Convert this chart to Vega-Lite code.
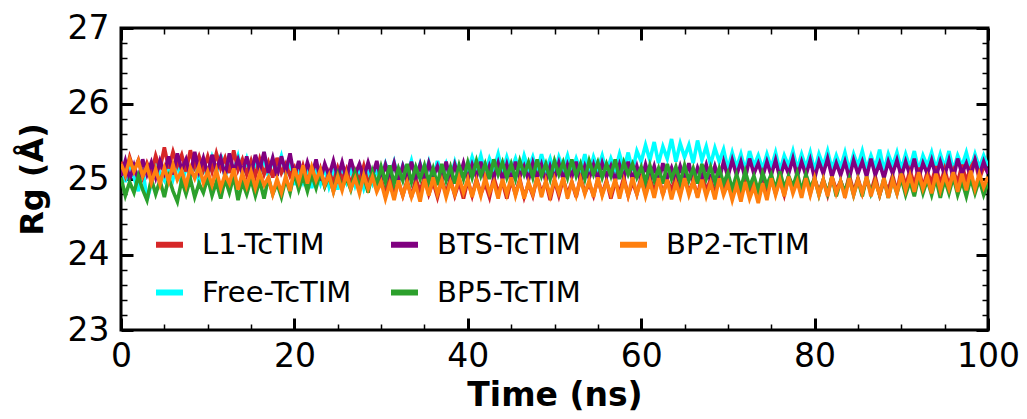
{
  "$schema": "https://vega.github.io/schema/vega-lite/v6.json",
  "width": 867,
  "height": 302,
  "autosize": {"type": "none"},
  "padding": {"left": 121, "top": 28, "right": 39, "bottom": 89},
  "background": "white",
  "config": {
    "font": "DejaVu Sans",
    "view": {"stroke": "black", "strokeWidth": 3},
    "axis": {"grid": false, "domain": false, "labelColor": "black", "tickColor": "black", "titleColor": "black", "labelFont": "DejaVu Sans", "titleFont": "DejaVu Sans"}
  },
  "datasets": {
    "traj": [
{"t":0,"L1":25.23,"BTS":25.04,"BP2":25.2,"Free":25.2,"BP5":25.02},
{"t":0.5,"L1":25.05,"BTS":25.24,"BP2":25.06,"Free":24.96,"BP5":24.78},
{"t":1,"L1":25.29,"BTS":25,"BP2":25.26,"Free":25.24,"BP5":24.96},
{"t":1.5,"L1":25.11,"BTS":25.18,"BP2":25.1,"Free":25.02,"BP5":24.82},
{"t":2,"L1":25.25,"BTS":24.98,"BP2":25.24,"Free":24.84,"BP5":25.04},
{"t":2.5,"L1":25.03,"BTS":25.26,"BP2":25.04,"Free":25.14,"BP5":24.86},
{"t":3,"L1":25.21,"BTS":25.06,"BP2":25.17,"Free":24.72,"BP5":24.72},
{"t":3.5,"L1":25.07,"BTS":25.22,"BP2":24.95,"Free":24.94,"BP5":25},
{"t":4,"L1":25.31,"BTS":25.02,"BP2":25.13,"Free":25.22,"BP5":24.8},
{"t":4.5,"L1":25.13,"BTS":25.24,"BP2":24.93,"Free":25.08,"BP5":24.98},
{"t":5,"L1":25.42,"BTS":25.08,"BP2":25.15,"Free":24.98,"BP5":24.76},
{"t":5.5,"L1":25.14,"BTS":25.3,"BP2":24.97,"Free":25.18,"BP5":25.02},
{"t":6,"L1":25.36,"BTS":25.06,"BP2":25.19,"Free":25,"BP5":24.84},
{"t":6.5,"L1":25.18,"BTS":25.34,"BP2":24.99,"Free":25.22,"BP5":24.7},
{"t":7,"L1":25.32,"BTS":25.12,"BP2":25.11,"Free":24.92,"BP5":24.98},
{"t":7.5,"L1":25.1,"BTS":25.26,"BP2":24.91,"Free":25.16,"BP5":24.8},
{"t":8,"L1":25.38,"BTS":25.04,"BP2":25.15,"Free":25.04,"BP5":25},
{"t":8.5,"L1":25.16,"BTS":25.36,"BP2":25.01,"Free":25.2,"BP5":24.76},
{"t":9,"L1":25.3,"BTS":25.1,"BP2":25.17,"Free":24.96,"BP5":24.94},
{"t":9.5,"L1":25.12,"BTS":25.28,"BP2":24.95,"Free":25.14,"BP5":24.82},
{"t":10,"L1":25.3,"BTS":25.06,"BP2":25.1,"Free":25.04,"BP5":25.02},
{"t":10.5,"L1":25.1,"BTS":25.32,"BP2":24.92,"Free":25.28,"BP5":24.78},
{"t":11,"L1":25.34,"BTS":25.12,"BP2":25.12,"Free":25.08,"BP5":24.96},
{"t":11.5,"L1":25.14,"BTS":25.28,"BP2":24.88,"Free":25.32,"BP5":24.74},
{"t":12,"L1":25.28,"BTS":25.04,"BP2":25.06,"Free":25.02,"BP5":25},
{"t":12.5,"L1":25.08,"BTS":25.34,"BP2":24.94,"Free":25.24,"BP5":24.82},
{"t":13,"L1":25.38,"BTS":25.1,"BP2":25.14,"Free":25.1,"BP5":25.04},
{"t":13.5,"L1":25.12,"BTS":25.26,"BP2":24.86,"Free":25.3,"BP5":24.72},
{"t":14,"L1":25.26,"BTS":25.08,"BP2":25.08,"Free":25.06,"BP5":24.96},
{"t":14.5,"L1":25.06,"BTS":25.3,"BP2":24.9,"Free":25.26,"BP5":24.8},
{"t":15,"L1":25.24,"BTS":25.06,"BP2":25.1,"Free":25.02,"BP5":25},
{"t":15.5,"L1":25.04,"BTS":25.32,"BP2":24.88,"Free":25.22,"BP5":24.78},
{"t":16,"L1":25.26,"BTS":25.12,"BP2":25.08,"Free":25.08,"BP5":24.98},
{"t":16.5,"L1":25.06,"BTS":25.36,"BP2":24.92,"Free":25.28,"BP5":24.74},
{"t":17,"L1":25.22,"BTS":25.08,"BP2":25.02,"Free":25.04,"BP5":25.02},
{"t":17.5,"L1":25.02,"BTS":25.28,"BP2":24.8,"Free":25.26,"BP5":24.8},
{"t":18,"L1":25.28,"BTS":25.04,"BP2":25,"Free":25.1,"BP5":24.94},
{"t":18.5,"L1":25.08,"BTS":25.3,"BP2":24.82,"Free":25.3,"BP5":24.76},
{"t":19,"L1":25.2,"BTS":25.1,"BP2":25.04,"Free":25.06,"BP5":25},
{"t":19.5,"L1":25.04,"BTS":25.34,"BP2":24.84,"Free":25.24,"BP5":24.82},
{"t":20,"L1":25.15,"BTS":25.02,"BP2":25.14,"Free":24.92,"BP5":25.08},
{"t":20.5,"L1":24.95,"BTS":25.24,"BP2":24.96,"Free":25.14,"BP5":24.86},
{"t":21,"L1":25.17,"BTS":25,"BP2":25.18,"Free":24.96,"BP5":25.04},
{"t":21.5,"L1":24.97,"BTS":25.22,"BP2":24.94,"Free":25.12,"BP5":24.84},
{"t":22,"L1":25.11,"BTS":25.04,"BP2":25.16,"Free":24.88,"BP5":25.06},
{"t":22.5,"L1":24.93,"BTS":25.26,"BP2":24.98,"Free":25.1,"BP5":24.88},
{"t":23,"L1":25.13,"BTS":24.98,"BP2":25.12,"Free":24.94,"BP5":25.1},
{"t":23.5,"L1":24.91,"BTS":25.2,"BP2":24.92,"Free":25.16,"BP5":24.9},
{"t":24,"L1":25.09,"BTS":25.04,"BP2":25.05,"Free":24.9,"BP5":25.04},
{"t":24.5,"L1":24.95,"BTS":25.24,"BP2":24.83,"Free":25.08,"BP5":24.84},
{"t":25,"L1":25.15,"BTS":25.02,"BP2":25.03,"Free":24.86,"BP5":25.06},
{"t":25.5,"L1":24.99,"BTS":25.22,"BP2":24.85,"Free":25.12,"BP5":24.88},
{"t":26,"L1":25.13,"BTS":25,"BP2":25.07,"Free":24.96,"BP5":25.02},
{"t":26.5,"L1":24.93,"BTS":25.26,"BP2":24.87,"Free":25.14,"BP5":24.86},
{"t":27,"L1":25.11,"BTS":25.06,"BP2":25.01,"Free":24.92,"BP5":25.08},
{"t":27.5,"L1":24.97,"BTS":25.2,"BP2":24.81,"Free":25.1,"BP5":24.9},
{"t":28,"L1":25.17,"BTS":25.02,"BP2":25.05,"Free":24.88,"BP5":25.04},
{"t":28.5,"L1":24.93,"BTS":25.22,"BP2":24.87,"Free":25.08,"BP5":24.82},
{"t":29,"L1":25.09,"BTS":25.04,"BP2":25.03,"Free":24.94,"BP5":25.1},
{"t":29.5,"L1":24.95,"BTS":25.24,"BP2":24.83,"Free":25.12,"BP5":24.92},
{"t":30,"L1":25,"BTS":24.99,"BP2":24.96,"Free":25,"BP5":25.16},
{"t":30.5,"L1":24.8,"BTS":25.19,"BP2":24.74,"Free":25.2,"BP5":24.96},
{"t":31,"L1":25.02,"BTS":25.01,"BP2":24.94,"Free":25.02,"BP5":25.18},
{"t":31.5,"L1":24.82,"BTS":25.21,"BP2":24.72,"Free":25.22,"BP5":24.94},
{"t":32,"L1":24.96,"BTS":24.97,"BP2":24.98,"Free":24.98,"BP5":25.14},
{"t":32.5,"L1":24.78,"BTS":25.17,"BP2":24.78,"Free":25.18,"BP5":24.98},
{"t":33,"L1":24.98,"BTS":24.99,"BP2":24.96,"Free":25.04,"BP5":25.2},
{"t":33.5,"L1":24.76,"BTS":25.23,"BP2":24.76,"Free":25.24,"BP5":24.96},
{"t":34,"L1":25,"BTS":25.01,"BP2":24.92,"Free":25,"BP5":25.16},
{"t":34.5,"L1":24.84,"BTS":25.19,"BP2":24.7,"Free":25.2,"BP5":25},
{"t":35,"L1":25.02,"BTS":24.97,"BP2":25,"Free":25.02,"BP5":25.18},
{"t":35.5,"L1":24.8,"BTS":25.21,"BP2":24.78,"Free":25.22,"BP5":24.96},
{"t":36,"L1":24.96,"BTS":25.03,"BP2":25.02,"Free":24.98,"BP5":25.14},
{"t":36.5,"L1":24.76,"BTS":25.17,"BP2":24.8,"Free":25.24,"BP5":24.92},
{"t":37,"L1":24.98,"BTS":24.99,"BP2":24.98,"Free":25.04,"BP5":25.2},
{"t":37.5,"L1":24.82,"BTS":25.23,"BP2":24.76,"Free":25.2,"BP5":24.98},
{"t":38,"L1":25,"BTS":24.97,"BP2":24.96,"Free":25,"BP5":25.16},
{"t":38.5,"L1":24.78,"BTS":25.19,"BP2":24.8,"Free":25.22,"BP5":24.94},
{"t":39,"L1":24.96,"BTS":25.01,"BP2":25.02,"Free":25.02,"BP5":25.18},
{"t":39.5,"L1":24.74,"BTS":25.21,"BP2":24.82,"Free":25.18,"BP5":25},
{"t":40,"L1":24.98,"BTS":24.99,"BP2":25,"Free":25.09,"BP5":25.22},
{"t":40.5,"L1":24.78,"BTS":25.19,"BP2":24.76,"Free":25.29,"BP5":25.02},
{"t":41,"L1":25,"BTS":25.03,"BP2":24.98,"Free":25.11,"BP5":25.24},
{"t":41.5,"L1":24.8,"BTS":25.23,"BP2":24.78,"Free":25.31,"BP5":25.04},
{"t":42,"L1":24.94,"BTS":24.97,"BP2":25.02,"Free":25.07,"BP5":25.2},
{"t":42.5,"L1":24.76,"BTS":25.17,"BP2":24.82,"Free":25.27,"BP5":25},
{"t":43,"L1":25.02,"BTS":25.01,"BP2":24.96,"Free":25.13,"BP5":25.26},
{"t":43.5,"L1":24.82,"BTS":25.21,"BP2":24.74,"Free":25.33,"BP5":25.06},
{"t":44,"L1":24.96,"BTS":24.99,"BP2":25,"Free":25.09,"BP5":25.22},
{"t":44.5,"L1":24.74,"BTS":25.19,"BP2":24.8,"Free":25.29,"BP5":25.02},
{"t":45,"L1":24.98,"BTS":24.97,"BP2":25.02,"Free":25.11,"BP5":25.2},
{"t":45.5,"L1":24.8,"BTS":25.23,"BP2":24.78,"Free":25.27,"BP5":25},
{"t":46,"L1":25,"BTS":25.03,"BP2":24.98,"Free":25.07,"BP5":25.24},
{"t":46.5,"L1":24.76,"BTS":25.17,"BP2":24.74,"Free":25.31,"BP5":25.06},
{"t":47,"L1":24.94,"BTS":24.99,"BP2":24.96,"Free":25.13,"BP5":25.22},
{"t":47.5,"L1":24.78,"BTS":25.21,"BP2":24.8,"Free":25.29,"BP5":25.02},
{"t":48,"L1":25.02,"BTS":25.01,"BP2":25.02,"Free":25.09,"BP5":25.26},
{"t":48.5,"L1":24.82,"BTS":25.19,"BP2":24.76,"Free":25.33,"BP5":25.04},
{"t":49,"L1":24.96,"BTS":24.97,"BP2":24.98,"Free":25.11,"BP5":25.2},
{"t":49.5,"L1":24.72,"BTS":25.17,"BP2":24.78,"Free":25.27,"BP5":25},
{"t":50,"L1":24.98,"BTS":25.01,"BP2":25,"Free":25.07,"BP5":25.24},
{"t":50.5,"L1":24.78,"BTS":25.21,"BP2":24.82,"Free":25.29,"BP5":25.06},
{"t":51,"L1":25,"BTS":24.99,"BP2":25.02,"Free":25.13,"BP5":25.22},
{"t":51.5,"L1":24.8,"BTS":25.19,"BP2":24.74,"Free":25.31,"BP5":25.02},
{"t":52,"L1":24.96,"BTS":25.03,"BP2":24.96,"Free":25.09,"BP5":25.26},
{"t":52.5,"L1":24.76,"BTS":25.23,"BP2":24.78,"Free":25.27,"BP5":25.04},
{"t":53,"L1":25.02,"BTS":24.97,"BP2":25,"Free":25.11,"BP5":25.2},
{"t":53.5,"L1":24.82,"BTS":25.17,"BP2":24.8,"Free":25.33,"BP5":25},
{"t":54,"L1":24.94,"BTS":25.01,"BP2":24.98,"Free":25.07,"BP5":25.24},
{"t":54.5,"L1":24.78,"BTS":25.19,"BP2":24.76,"Free":25.29,"BP5":25.06},
{"t":55,"L1":25,"BTS":24.99,"BP2":25.02,"Free":25.13,"BP5":25.22},
{"t":55.5,"L1":24.8,"BTS":25.21,"BP2":24.78,"Free":25.31,"BP5":25.02},
{"t":56,"L1":24.98,"BTS":25.03,"BP2":24.96,"Free":25.09,"BP5":25.2},
{"t":56.5,"L1":24.74,"BTS":25.17,"BP2":24.8,"Free":25.27,"BP5":25.04},
{"t":57,"L1":24.96,"BTS":24.97,"BP2":25,"Free":25.11,"BP5":25.26},
{"t":57.5,"L1":24.82,"BTS":25.19,"BP2":24.74,"Free":25.33,"BP5":25},
{"t":58,"L1":25.02,"BTS":25.01,"BP2":24.98,"Free":25.13,"BP5":25.22},
{"t":58.5,"L1":24.78,"BTS":25.23,"BP2":24.78,"Free":25.35,"BP5":25.06},
{"t":59,"L1":24.96,"BTS":24.99,"BP2":25.02,"Free":25.11,"BP5":25.2},
{"t":59.5,"L1":24.8,"BTS":25.17,"BP2":24.8,"Free":25.37,"BP5":25.02},
{"t":60,"L1":25.03,"BTS":24.97,"BP2":24.99,"Free":25.23,"BP5":25.16},
{"t":60.5,"L1":24.81,"BTS":25.19,"BP2":24.77,"Free":25.45,"BP5":24.96},
{"t":61,"L1":25.01,"BTS":24.99,"BP2":24.97,"Free":25.25,"BP5":25.18},
{"t":61.5,"L1":24.83,"BTS":25.17,"BP2":24.75,"Free":25.49,"BP5":24.98},
{"t":62,"L1":25.05,"BTS":24.95,"BP2":25.01,"Free":25.21,"BP5":25.14},
{"t":62.5,"L1":24.79,"BTS":25.21,"BP2":24.79,"Free":25.43,"BP5":24.94},
{"t":63,"L1":24.99,"BTS":25.01,"BP2":24.99,"Free":25.27,"BP5":25.2},
{"t":63.5,"L1":24.85,"BTS":25.15,"BP2":24.73,"Free":25.53,"BP5":25},
{"t":64,"L1":25.03,"BTS":24.97,"BP2":24.95,"Free":25.23,"BP5":25.16},
{"t":64.5,"L1":24.81,"BTS":25.17,"BP2":24.77,"Free":25.47,"BP5":24.96},
{"t":65,"L1":25.01,"BTS":24.99,"BP2":25.01,"Free":25.29,"BP5":25.18},
{"t":65.5,"L1":24.83,"BTS":25.21,"BP2":24.79,"Free":25.45,"BP5":24.98},
{"t":66,"L1":24.97,"BTS":24.95,"BP2":24.97,"Free":25.21,"BP5":25.14},
{"t":66.5,"L1":24.77,"BTS":25.15,"BP2":24.75,"Free":25.51,"BP5":24.94},
{"t":67,"L1":25.05,"BTS":25.01,"BP2":24.99,"Free":25.25,"BP5":25.2},
{"t":67.5,"L1":24.85,"BTS":25.19,"BP2":24.77,"Free":25.43,"BP5":25},
{"t":68,"L1":24.99,"BTS":24.97,"BP2":24.95,"Free":25.19,"BP5":25.16},
{"t":68.5,"L1":24.81,"BTS":25.17,"BP2":24.73,"Free":25.41,"BP5":24.96},
{"t":69,"L1":25.03,"BTS":24.99,"BP2":25.01,"Free":25.23,"BP5":25.14},
{"t":69.5,"L1":24.83,"BTS":25.23,"BP2":24.79,"Free":25.39,"BP5":24.94},
{"t":70,"L1":25.01,"BTS":25.03,"BP2":24.94,"Free":25.13,"BP5":25.08},
{"t":70.5,"L1":24.81,"BTS":25.25,"BP2":24.72,"Free":25.35,"BP5":24.86},
{"t":71,"L1":24.99,"BTS":25.05,"BP2":24.92,"Free":25.15,"BP5":25.06},
{"t":71.5,"L1":24.83,"BTS":25.23,"BP2":24.7,"Free":25.33,"BP5":24.88},
{"t":72,"L1":25.03,"BTS":25.01,"BP2":24.96,"Free":25.11,"BP5":25.1},
{"t":72.5,"L1":24.79,"BTS":25.27,"BP2":24.74,"Free":25.37,"BP5":24.9},
{"t":73,"L1":24.97,"BTS":25.07,"BP2":24.9,"Free":25.17,"BP5":25.04},
{"t":73.5,"L1":24.85,"BTS":25.21,"BP2":24.68,"Free":25.31,"BP5":24.84},
{"t":74,"L1":25.05,"BTS":25.03,"BP2":24.94,"Free":25.13,"BP5":25.08},
{"t":74.5,"L1":24.83,"BTS":25.23,"BP2":24.72,"Free":25.33,"BP5":24.92},
{"t":75,"L1":25.01,"BTS":25.05,"BP2":25.01,"Free":25.15,"BP5":25.06},
{"t":75.5,"L1":24.81,"BTS":25.25,"BP2":24.79,"Free":25.35,"BP5":24.86},
{"t":76,"L1":24.99,"BTS":25.01,"BP2":24.99,"Free":25.11,"BP5":25.1},
{"t":76.5,"L1":24.79,"BTS":25.21,"BP2":24.77,"Free":25.31,"BP5":24.88},
{"t":77,"L1":25.03,"BTS":25.07,"BP2":25.03,"Free":25.17,"BP5":25.04},
{"t":77.5,"L1":24.85,"BTS":25.27,"BP2":24.81,"Free":25.37,"BP5":24.9},
{"t":78,"L1":24.97,"BTS":25.03,"BP2":24.97,"Free":25.13,"BP5":25.08},
{"t":78.5,"L1":24.83,"BTS":25.23,"BP2":24.75,"Free":25.33,"BP5":24.84},
{"t":79,"L1":25.05,"BTS":25.05,"BP2":25.01,"Free":25.15,"BP5":25.06},
{"t":79.5,"L1":24.81,"BTS":25.25,"BP2":24.79,"Free":25.35,"BP5":24.88},
{"t":80,"L1":25.01,"BTS":25.01,"BP2":25.01,"Free":25.11,"BP5":25.01},
{"t":80.5,"L1":24.83,"BTS":25.23,"BP2":24.79,"Free":25.33,"BP5":24.79},
{"t":81,"L1":24.99,"BTS":25.07,"BP2":24.99,"Free":25.17,"BP5":24.99},
{"t":81.5,"L1":24.79,"BTS":25.27,"BP2":24.77,"Free":25.37,"BP5":24.81},
{"t":82,"L1":25.03,"BTS":25.03,"BP2":25.03,"Free":25.13,"BP5":25.03},
{"t":82.5,"L1":24.85,"BTS":25.21,"BP2":24.81,"Free":25.31,"BP5":24.77},
{"t":83,"L1":24.97,"BTS":25.05,"BP2":24.97,"Free":25.15,"BP5":24.97},
{"t":83.5,"L1":24.81,"BTS":25.23,"BP2":24.75,"Free":25.35,"BP5":24.83},
{"t":84,"L1":25.05,"BTS":25.01,"BP2":25.01,"Free":25.11,"BP5":25.01},
{"t":84.5,"L1":24.83,"BTS":25.25,"BP2":24.79,"Free":25.33,"BP5":24.79},
{"t":85,"L1":25.01,"BTS":25.07,"BP2":24.99,"Free":25.17,"BP5":24.99},
{"t":85.5,"L1":24.81,"BTS":25.23,"BP2":24.81,"Free":25.37,"BP5":24.77},
{"t":86,"L1":24.99,"BTS":25.03,"BP2":25.03,"Free":25.13,"BP5":25.03},
{"t":86.5,"L1":24.83,"BTS":25.27,"BP2":24.77,"Free":25.31,"BP5":24.81},
{"t":87,"L1":25.03,"BTS":25.05,"BP2":24.97,"Free":25.15,"BP5":24.97},
{"t":87.5,"L1":24.79,"BTS":25.21,"BP2":24.79,"Free":25.39,"BP5":24.79},
{"t":88,"L1":24.97,"BTS":25.01,"BP2":25.01,"Free":25.11,"BP5":25.01},
{"t":88.5,"L1":24.85,"BTS":25.23,"BP2":24.75,"Free":25.33,"BP5":24.75},
{"t":89,"L1":25.05,"BTS":25.07,"BP2":24.99,"Free":25.17,"BP5":24.99},
{"t":89.5,"L1":24.83,"BTS":25.25,"BP2":24.81,"Free":25.35,"BP5":24.81},
{"t":90,"L1":25.13,"BTS":25.03,"BP2":25.07,"Free":25.13,"BP5":25.01},
{"t":90.5,"L1":24.91,"BTS":25.23,"BP2":24.85,"Free":25.33,"BP5":24.79},
{"t":91,"L1":25.11,"BTS":25.05,"BP2":25.05,"Free":25.15,"BP5":24.97},
{"t":91.5,"L1":24.93,"BTS":25.27,"BP2":24.83,"Free":25.37,"BP5":24.77},
{"t":92,"L1":25.15,"BTS":25.01,"BP2":25.09,"Free":25.11,"BP5":25.03},
{"t":92.5,"L1":24.89,"BTS":25.21,"BP2":24.87,"Free":25.31,"BP5":24.81},
{"t":93,"L1":25.09,"BTS":25.07,"BP2":25.03,"Free":25.17,"BP5":24.99},
{"t":93.5,"L1":24.95,"BTS":25.25,"BP2":24.81,"Free":25.35,"BP5":24.79},
{"t":94,"L1":25.17,"BTS":25.03,"BP2":25.07,"Free":25.13,"BP5":25.01},
{"t":94.5,"L1":24.93,"BTS":25.23,"BP2":24.85,"Free":25.33,"BP5":24.75},
{"t":95,"L1":25.13,"BTS":25.05,"BP2":25.05,"Free":25.15,"BP5":24.99},
{"t":95.5,"L1":24.91,"BTS":25.25,"BP2":24.87,"Free":25.37,"BP5":24.81},
{"t":96,"L1":25.11,"BTS":25.01,"BP2":25.09,"Free":25.11,"BP5":25.03},
{"t":96.5,"L1":24.95,"BTS":25.27,"BP2":24.83,"Free":25.31,"BP5":24.79},
{"t":97,"L1":25.19,"BTS":25.07,"BP2":25.07,"Free":25.17,"BP5":24.97},
{"t":97.5,"L1":24.97,"BTS":25.21,"BP2":24.85,"Free":25.35,"BP5":24.77},
{"t":98,"L1":25.15,"BTS":25.03,"BP2":25.11,"Free":25.13,"BP5":25.01},
{"t":98.5,"L1":25.25,"BTS":25.25,"BP2":24.87,"Free":25.33,"BP5":24.81},
{"t":99,"L1":24.99,"BTS":25.05,"BP2":25.07,"Free":25.15,"BP5":24.99},
{"t":99.5,"L1":25.17,"BTS":25.23,"BP2":24.89,"Free":25.31,"BP5":24.79},
{"t":100,"L1":25.09,"BTS":25.07,"BP2":25.03,"Free":25.17,"BP5":24.95}
    ],
    "bounds": [{"t": 0, "rg": 23}, {"t": 100, "rg": 27}]
  },
  "resolve": {"axis": {"x": "independent", "y": "independent"}},
  "layer": [
    {
      "data": {"name": "traj"},
      "transform": [{"fold": ["Free", "L1", "BTS", "BP5", "BP2"], "as": ["series", "rg"]}],
      "mark": {"type": "line", "strokeWidth": 3.6, "clip": true},
      "encoding": {
        "x": {"field": "t", "type": "quantitative", "scale": {"domain": [0, 100], "nice": false, "zero": false},
          "axis": {"orient": "bottom", "values": [0, 20, 40, 60, 80, 100], "ticks": false, "labelFontSize": 33, "labelPadding": 10, "labelFlush": false, "labelOverlap": false, "title": "Time (ns)", "titleFontSize": 33, "titleFontWeight": "bold", "titlePadding": 6}},
        "y": {"field": "rg", "type": "quantitative", "scale": {"domain": [23, 27], "nice": false, "zero": false},
          "axis": {"orient": "left", "values": [23, 24, 25, 26, 27], "ticks": false, "labelFontSize": 33, "labelPadding": 12, "labelFlush": false, "labelOverlap": false, "title": "Rg (Å)", "titleFontSize": 32, "titleFontWeight": "bold", "titlePadding": 18}},
        "color": {"field": "series", "type": "nominal",
          "scale": {"domain": ["L1", "BTS", "BP2", "Free", "BP5"], "range": ["#d62728", "#800080", "#ff7f0e", "#00ffff", "#2ca02c"]},
          "legend": {"orient": "none", "legendX": 32, "legendY": 200, "direction": "horizontal", "columns": 3, "title": null, "padding": 0,
            "symbolType": "stroke", "symbolSize": 729, "symbolStrokeWidth": 6, "labelFontSize": 29, "labelFont": "DejaVu Sans", "labelColor": "black", "labelOffset": 16, "labelLimit": 400,
            "columnPadding": 27, "rowPadding": 16, "labelExpr": "datum.label + '-TcTIM'"}}
      }
    },
    {
      "data": {"name": "bounds"},
      "mark": {"type": "point", "opacity": 0},
      "encoding": {
        "x": {"field": "t", "type": "quantitative", "axis": {"orient": "bottom", "values": [0, 20, 40, 60, 80, 100], "labels": false, "title": null, "tickSize": -12, "tickWidth": 3}},
        "y": {"field": "rg", "type": "quantitative", "axis": {"orient": "left", "values": [23, 24, 25, 26, 27], "labels": false, "title": null, "tickSize": -12, "tickWidth": 3}}
      }
    },
    {
      "data": {"name": "bounds"},
      "mark": {"type": "point", "opacity": 0},
      "encoding": {
        "x": {"field": "t", "type": "quantitative", "axis": {"orient": "bottom", "values": [5, 10, 15, 25, 30, 35, 45, 50, 55, 65, 70, 75, 85, 90, 95], "labels": false, "title": null, "tickSize": -6, "tickWidth": 1.5}},
        "y": {"field": "rg", "type": "quantitative", "axis": {"orient": "left", "values": [23.2, 23.4, 23.6, 23.8, 24.2, 24.4, 24.6, 24.8, 25.2, 25.4, 25.6, 25.8, 26.2, 26.4, 26.6, 26.8], "labels": false, "title": null, "tickSize": -6, "tickWidth": 1.5}}
      }
    },
    {
      "data": {"name": "bounds"},
      "mark": {"type": "point", "opacity": 0},
      "encoding": {
        "x": {"field": "t", "type": "quantitative", "axis": {"orient": "top", "values": [0, 20, 40, 60, 80, 100], "labels": false, "title": null, "tickSize": -12, "tickWidth": 3}},
        "y": {"field": "rg", "type": "quantitative", "axis": {"orient": "right", "values": [23, 24, 25, 26, 27], "labels": false, "title": null, "tickSize": -12, "tickWidth": 3}}
      }
    },
    {
      "data": {"name": "bounds"},
      "mark": {"type": "point", "opacity": 0},
      "encoding": {
        "x": {"field": "t", "type": "quantitative", "axis": {"orient": "top", "values": [5, 10, 15, 25, 30, 35, 45, 50, 55, 65, 70, 75, 85, 90, 95], "labels": false, "title": null, "tickSize": -6, "tickWidth": 1.5}},
        "y": {"field": "rg", "type": "quantitative", "axis": {"orient": "right", "values": [23.2, 23.4, 23.6, 23.8, 24.2, 24.4, 24.6, 24.8, 25.2, 25.4, 25.6, 25.8, 26.2, 26.4, 26.6, 26.8], "labels": false, "title": null, "tickSize": -6, "tickWidth": 1.5}}
      }
    }
  ]
}
